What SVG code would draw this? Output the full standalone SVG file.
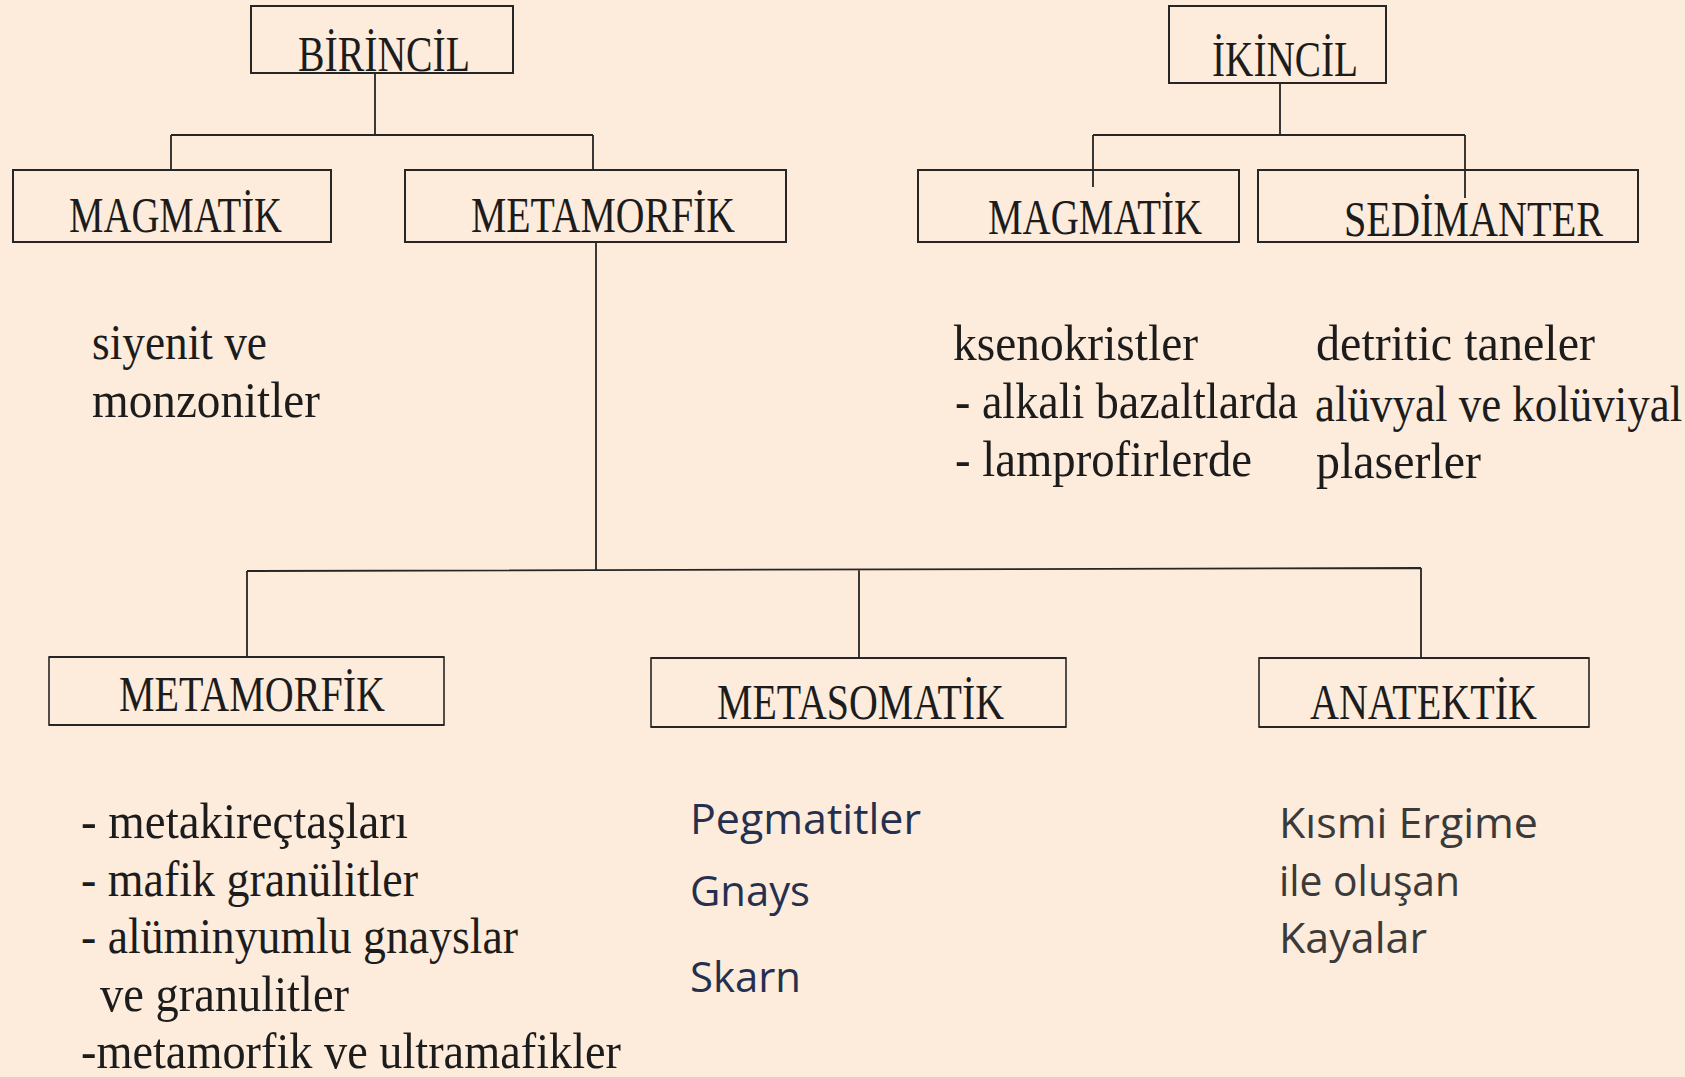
<svg xmlns="http://www.w3.org/2000/svg" width="1685" height="1077" viewBox="0 0 1685 1077">
<style>
.bg{fill:#fdebdb}
.box{fill:none;stroke:#262626;stroke-width:2}
.boxb{fill:none;stroke:#262626;stroke-width:1.6}
.edge{fill:none;stroke:#262626;stroke-width:1.8}
.cap{font-family:"Liberation Serif","DejaVu Serif",serif;font-size:50px;fill:#1c1c1c}
.ser{font-family:"Liberation Serif","DejaVu Serif",serif;font-size:50px;fill:#1c1c1c}
.nav{font-family:"Open Sans","Liberation Sans",sans-serif;font-size:42px;fill:#25304f}
.gry{font-family:"Open Sans","Liberation Sans",sans-serif;font-size:42px;fill:#3a3a3a}
</style>
<rect class="bg" x="0" y="0" width="1685" height="1077"/>

<g id="connectors">
  <path class="edge" d="M375 73 V135 M171 135 H593 M171 135 V170 M593 135 V170"/>
  <path class="edge" d="M596 242 V571"/>
  <path class="edge" d="M1280 83 V135 M1093 135 H1465 M1093 135 V187 M1465 135 V198"/>
  <path class="edge" d="M247 571 L1421 568 M247 571 V657 M859 570 V657 M1421 568 V657" stroke-width="2.2"/>
</g>

<g id="n-birincil">
  <rect class="box" x="251" y="6" width="262" height="67"/>
  <text class="cap" x="298" y="71" textLength="172" lengthAdjust="spacingAndGlyphs">BİRİNCİL</text>
</g>
<g id="n-ikincil">
  <rect class="box" x="1169" y="6" width="217" height="77"/>
  <text class="cap" x="1212" y="76" textLength="146" lengthAdjust="spacingAndGlyphs">İKİNCİL</text>
</g>

<g id="n-magmatik-1">
  <rect class="box" x="13" y="170" width="318" height="72"/>
  <text class="cap" x="69" y="232" textLength="213" lengthAdjust="spacingAndGlyphs">MAGMATİK</text>
</g>
<g id="n-metamorfik-1">
  <rect class="box" x="405" y="170" width="381" height="72"/>
  <text class="cap" x="471" y="232" textLength="264" lengthAdjust="spacingAndGlyphs">METAMORFİK</text>
</g>
<g id="n-magmatik-2">
  <rect class="box" x="918" y="170" width="321" height="72"/>
  <text class="cap" x="988" y="234" textLength="214" lengthAdjust="spacingAndGlyphs">MAGMATİK</text>
</g>
<g id="n-sedimanter">
  <rect class="box" x="1258" y="170" width="380" height="72"/>
  <text class="cap" x="1344" y="236" textLength="259" lengthAdjust="spacingAndGlyphs">SEDİMANTER</text>
</g>

<g id="list-magmatik-1">
  <text class="ser" x="92" y="359" textLength="175" lengthAdjust="spacingAndGlyphs">siyenit ve</text>
  <text class="ser" x="92" y="417" textLength="228" lengthAdjust="spacingAndGlyphs">monzonitler</text>
</g>
<g id="list-magmatik-2">
  <text class="ser" x="953" y="360" textLength="245" lengthAdjust="spacingAndGlyphs">ksenokristler</text>
  <text class="ser" x="955" y="418" textLength="343" lengthAdjust="spacingAndGlyphs">- alkali bazaltlarda</text>
  <text class="ser" x="955" y="476" textLength="297" lengthAdjust="spacingAndGlyphs">- lamprofirlerde</text>
</g>
<g id="list-sedimanter">
  <text class="ser" x="1316" y="360" textLength="279" lengthAdjust="spacingAndGlyphs">detritic taneler</text>
  <text class="ser" transform="translate(1315 421) scale(0.9 1)" x="0" y="0">alüvyal ve kolüviyal</text>
  <text class="ser" x="1316" y="478" textLength="165" lengthAdjust="spacingAndGlyphs">plaserler</text>
</g>

<g id="n-metamorfik-2">
  <rect class="boxb" x="49" y="657" width="395" height="68"/>
  <path class="edge" d="M49 657 H444 M49 725 H444" stroke-width="3"/>
  <text class="cap" x="119" y="711" textLength="266" lengthAdjust="spacingAndGlyphs">METAMORFİK</text>
</g>
<g id="n-metasomatik">
  <rect class="boxb" x="651" y="658" width="415" height="69"/>
  <path class="edge" d="M651 658 H1066 M651 727 H1066" stroke-width="3"/>
  <text class="cap" x="717" y="719" textLength="287" lengthAdjust="spacingAndGlyphs">METASOMATİK</text>
</g>
<g id="n-anatektik">
  <rect class="boxb" x="1259" y="658" width="330" height="69"/>
  <path class="edge" d="M1259 658 H1589 M1259 727 H1589" stroke-width="3"/>
  <text class="cap" x="1310" y="719" textLength="227" lengthAdjust="spacingAndGlyphs">ANATEKTİK</text>
</g>

<g id="list-metamorfik-2">
  <text class="ser" x="81" y="838" textLength="327" lengthAdjust="spacingAndGlyphs">- metakireçtaşları</text>
  <text class="ser" x="81" y="896" textLength="337" lengthAdjust="spacingAndGlyphs">- mafik granülitler</text>
  <text class="ser" x="81" y="953" textLength="437" lengthAdjust="spacingAndGlyphs">- alüminyumlu gnayslar</text>
  <text class="ser" x="100" y="1011" textLength="249" lengthAdjust="spacingAndGlyphs">ve granulitler</text>
  <text class="ser" x="81" y="1068" textLength="540" lengthAdjust="spacingAndGlyphs">-metamorfik ve ultramafikler</text>
</g>
<g id="list-metasomatik">
  <text class="nav" x="690" y="834" textLength="231" lengthAdjust="spacingAndGlyphs">Pegmatitler</text>
  <text class="nav" x="690" y="906" textLength="120" lengthAdjust="spacingAndGlyphs">Gnays</text>
  <text class="nav" x="690" y="992" textLength="111" lengthAdjust="spacingAndGlyphs">Skarn</text>
</g>
<g id="list-anatektik">
  <text class="gry" x="1279" y="838" textLength="259" lengthAdjust="spacingAndGlyphs">Kısmi Ergime</text>
  <text class="gry" x="1279" y="896" textLength="181" lengthAdjust="spacingAndGlyphs">ile oluşan</text>
  <text class="gry" x="1279" y="953" textLength="148" lengthAdjust="spacingAndGlyphs">Kayalar</text>
</g>
</svg>
